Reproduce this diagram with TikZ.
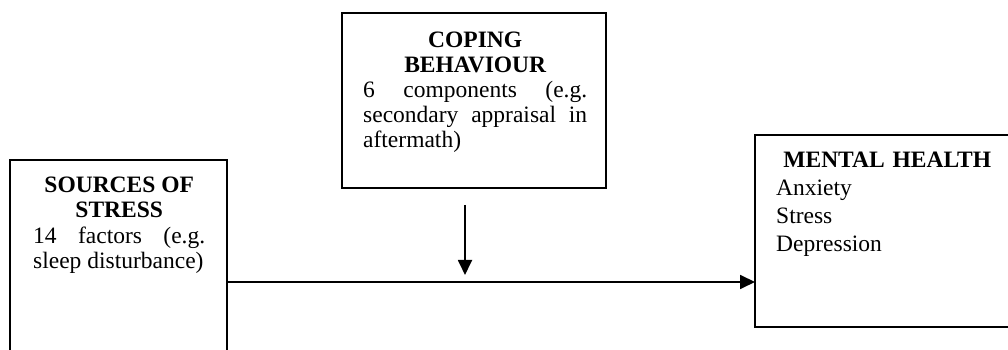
\documentclass[tikz,border=0pt]{standalone}
\usepackage{fontspec}
\setmainfont{Liberation Serif}
\usetikzlibrary{arrows.meta}
\hyphenpenalty=10000
\exhyphenpenalty=10000
\begin{document}
\begin{tikzpicture}[x=1pt,y=1pt,
  box/.style={draw, line width=1.8pt, inner sep=0pt, outer sep=0pt, anchor=north west},
  txt/.style={inner sep=0pt, anchor=north west, align=justify},
  conn/.style={line width=1.8pt, -{Triangle[length=15pt,width=14pt]}}]
\useasboundingbox (0,0) rectangle (1008,350);
\clip (0,0) rectangle (1008,350);
% boxes
\node[box, minimum width=217pt, minimum height=200pt] (src) at (10,190) {};
\node[box, minimum width=264pt, minimum height=175pt] (cop) at (342,337) {};
\node[box, minimum width=300pt, minimum height=192pt] (mh) at (755,215) {};
% texts
\node[txt, text width=172pt, font={\fontsize{23.5}{25.5}\selectfont\frenchspacing\tolerance=9999 }] (srctxt) at (33,173.6)
  {{\centering\bfseries SOURCES OF\\ STRESS\par}14 factors (e.g. sleep disturbance)};
\node[txt, text width=224pt, font={\fontsize{23.5}{25}\selectfont\frenchspacing\tolerance=9999 }] (coptxt) at (363,317.8)
  {{\centering\bfseries COPING\\ BEHAVIOUR\par}6 components (e.g. secondary appraisal in aftermath)};
\node[txt, text width=222pt, align=left, font={\fontsize{23.5}{28}\selectfont}] (mhtxt) at (776,198.6)
  {{\centering\bfseries MENTAL HEALTH\par}Anxiety\\Stress\\Depression};
% connectors
\coordinate (h) at (0,68);
\draw[conn] (src.east |- h) -- (mh.west |- h);
\coordinate (vtop) at (465,145);
\coordinate (vtip) at (465,75);
\draw[conn] (vtop) -- (vtip);
\end{tikzpicture}
\end{document}
